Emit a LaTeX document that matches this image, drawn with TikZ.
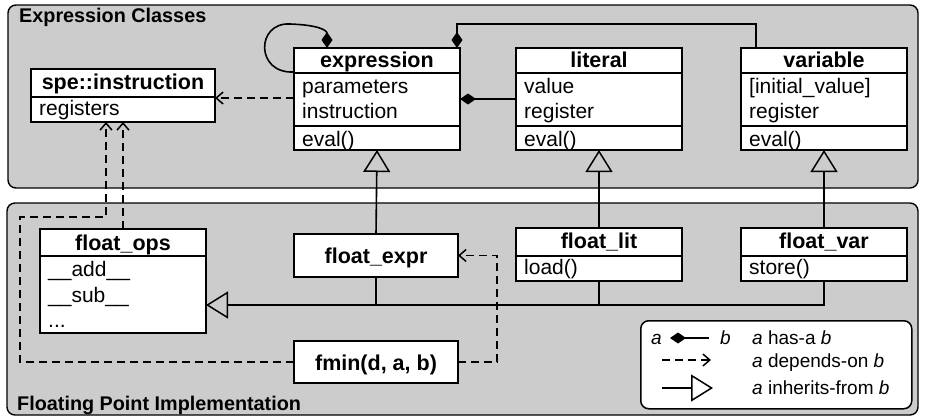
\documentclass[tikz,border=0pt]{standalone}
\usepackage{fontspec}
\setmainfont{Liberation Sans}
\usetikzlibrary{arrows.meta}
\definecolor{panelgray}{gray}{0.8}
\tikzset{
  panelbox/.style={draw, line width=1.4pt, fill=panelgray, rounded corners=8pt},
  umlbox/.style={draw, line width=1.6pt, fill=white, anchor=north west, inner sep=0pt, outer sep=0pt},
  sepline/.style={line width=1.4pt},
  hdr/.style={anchor=base, font=\fontsize{21.5}{24}\selectfont\bfseries, inner sep=0pt},
  attr/.style={anchor=base west, font=\fontsize{21}{24}\selectfont, inner sep=0pt},
  paneltitle/.style={anchor=base west, font=\fontsize{19.8}{22}\selectfont\bfseries, inner sep=0pt},
  legtext/.style={anchor=base west, font=\fontsize{19}{22}\selectfont, inner sep=0pt},
  hasa/.style={line width=1.6pt, -{Diamond[length=16pt,width=11pt]}},
  dep/.style={line width=1.7pt, dash pattern=on 8pt off 5pt, -{Straight Barb[length=7pt,width=12pt,line width=1.5pt]}},
  inh/.style={line width=1.6pt, -{Triangle[open,length=22pt,width=27pt,line width=1.5pt]}},
  plain/.style={line width=1.6pt}
}
\begin{document}
\begin{tikzpicture}[x=1pt,y=-1pt]
\useasboundingbox (0,0) rectangle (925,418);
% panels
\draw[panelbox] (8,5) rectangle (918,188);
\draw[panelbox] (7,203) rectangle (918,415);
\node[paneltitle] (t1) at (19,22) {Expression Classes};
\node[paneltitle] (t2) at (17,410) {Floating Point Implementation};

% spe::instruction
\node[umlbox, minimum width=184pt, minimum height=53pt] (spe) at (31,69) {};
\draw[sepline] (spe.west |- 0,97) -- (spe.east |- 0,97);
\node[hdr] (spe-h) at (123,89) {spe::instruction};
\node[attr] (spe-a) at (39,115) {registers};

% expression
\node[umlbox, minimum width=166pt, minimum height=102pt] (expr) at (294,48) {};
\draw[sepline] (expr.west |- 0,73) -- (expr.east |- 0,73);
\draw[sepline] (expr.west |- 0,126) -- (expr.east |- 0,126);
\node[hdr] (expr-h) at (377,67) {expression};
\node[attr] (expr-a1) at (302,93) {parameters};
\node[attr] (expr-a2) at (302,118) {instruction};
\node[attr] (expr-m) at (302,146) {eval()};

% literal
\node[umlbox, minimum width=166pt, minimum height=102pt] (lit) at (516,48) {};
\draw[sepline] (lit.west |- 0,73) -- (lit.east |- 0,73);
\draw[sepline] (lit.west |- 0,126) -- (lit.east |- 0,126);
\node[hdr] (lit-h) at (599,67) {literal};
\node[attr] (lit-a1) at (524,93) {value};
\node[attr] (lit-a2) at (524,118) {register};
\node[attr] (lit-m) at (524,146) {eval()};

% variable
\node[umlbox, minimum width=166pt, minimum height=102pt] (var) at (741,48) {};
\draw[sepline] (var.west |- 0,73) -- (var.east |- 0,73);
\draw[sepline] (var.west |- 0,126) -- (var.east |- 0,126);
\node[hdr] (var-h) at (824,67) {variable};
\node[attr] (var-a1) at (749,93) {[initial\_value]};
\node[attr] (var-a2) at (749,118) {register};
\node[attr] (var-m) at (749,146) {eval()};

% float_ops
\node[umlbox, minimum width=166pt, minimum height=104pt] (fops) at (40,229) {};
\draw[sepline] (fops.west |- 0,256) -- (fops.east |- 0,256);
\node[hdr] (fops-h) at (123,250) {float\_ops};
\node[attr] (fops-a1) at (48,276) {\_\_add\_\_};
\node[attr] (fops-a2) at (48,302) {\_\_sub\_\_};
\node[attr] (fops-a3) at (48,327) {...};

% float_expr
\node[umlbox, minimum width=164pt, minimum height=43pt] (fexpr) at (294,234) {};
\node[hdr] (fexpr-h) at (376,263) {float\_expr};

% float_lit
\node[umlbox, minimum width=166pt, minimum height=53pt] (flit) at (516,228) {};
\draw[sepline] (flit.west |- 0,256) -- (flit.east |- 0,256);
\node[hdr] (flit-h) at (599,248) {float\_lit};
\node[attr] (flit-m) at (524,274) {load()};

% float_var
\node[umlbox, minimum width=166pt, minimum height=53pt] (fvar) at (741,228) {};
\draw[sepline] (fvar.west |- 0,256) -- (fvar.east |- 0,256);
\node[hdr] (fvar-h) at (824,248) {float\_var};
\node[attr] (fvar-m) at (749,274) {store()};

% fmin
\node[umlbox, minimum width=164pt, minimum height=42pt] (fmin) at (294,341) {};
\node[hdr] (fmin-h) at (376,370) {fmin(d, a, b)};

% composition
\draw[hasa] (lit.west) -- (expr.east);
\draw[hasa] ([xshift=15pt]var.north west) -- ++(0,-24) -| ([xshift=-3pt]expr.north east);
\draw[hasa] ([yshift=-24pt]expr.north west) .. controls (255,74) and (256,22) .. (290,24)
   .. controls (318,25) and (327,30) .. ([xshift=33pt]expr.north west);

% dependencies
\draw[dep] ([yshift=1pt]expr.west) -- ([yshift=1pt]expr.west -| spe.east);
\draw[dep] (fops.north) -- (spe.south);
\coordinate (loopc) at (20,217);
\draw[dep] (fmin.west) -| (loopc) -| ([xshift=-17pt]spe.south);
\draw[dep] (fmin.east) -- ([xshift=39pt]fmin.east) |- (fexpr.east);

% inheritance
\draw[inh] (fexpr.north) -- (expr.south);
\draw[inh] (flit.north) -- (lit.south);
\draw[inh] (fvar.north) -- (var.south);
\coordinate (bus) at ([yshift=-24pt]fops.east);
\draw[inh] (fvar.south) |- (bus);
\draw[plain] (fexpr.south) -- (fexpr.south |- bus);
\draw[plain] (flit.south) -- (flit.south |- bus);

% legend
\node[draw, line width=1.5pt, fill=white, rounded corners=8pt, anchor=north west,
      minimum width=271pt, minimum height=88pt, inner sep=0pt] (legend) at (640,320) {};
\node[legtext] (la) at (651,344) {\itshape a};
\node[legtext] (lb) at (720,344) {\itshape b};
\coordinate (l1s) at (709,338);
\coordinate (l1e) at (670,338);
\draw[hasa] (l1s) -- (l1e);
\coordinate (l2s) at (662,360);
\coordinate (l2e) at (711,360);
\draw[dep] (l2s) -- (l2e);
\coordinate (l3s) at (662,388);
\coordinate (l3e) at (713,388);
\draw[inh] (l3s) -- (l3e);
\node[legtext] (lt1) at (752,344) {\itshape a\upshape\ has-a \itshape b};
\node[legtext] (lt2) at (752,367) {\itshape a\upshape\ depends-on \itshape b};
\node[legtext] (lt3) at (752,394) {\itshape a\upshape\ inherits-from \itshape b};
\end{tikzpicture}
\end{document}
